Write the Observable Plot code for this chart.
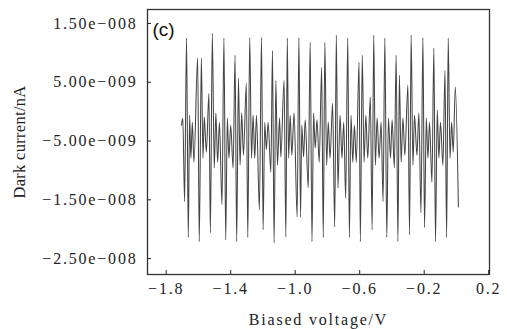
<!DOCTYPE html>
<html>
<head>
<meta charset="utf-8">
<script src="https://cdn.jsdelivr.net/npm/d3@7"></script>
<script src="https://cdn.jsdelivr.net/npm/@observablehq/plot@0.6"></script>
<style>
  html, body { margin: 0; padding: 0; background: #fff; }
  #chart svg text { letter-spacing: 1.8px; }
  #chart svg g[aria-label="y-axis label"] text { letter-spacing: 0.3px; font-size: 16.5px; }
  #chart svg g[aria-label="text"] text { letter-spacing: 0; }
</style>
</head>
<body>
<div id="chart"></div>
<script>
// Biased voltage (V)
const voltage = [
  -1.705, -1.697, -1.686, -1.674, -1.663, -1.655, -1.647, -1.638, -1.628, -1.605,
  -1.595, -1.582, -1.572, -1.564, -1.551, -1.535, -1.526, -1.514, -1.502, -1.492,
  -1.481, -1.470, -1.454, -1.442, -1.431, -1.421, -1.411, -1.400, -1.385, -1.373,
  -1.363, -1.352, -1.342, -1.332, -1.321, -1.303, -1.294, -1.282, -1.271, -1.261,
  -1.251, -1.240, -1.222, -1.209, -1.199, -1.189, -1.179, -1.168, -1.151, -1.141,
  -1.131, -1.120, -1.110, -1.097, -1.089, -1.069, -1.058, -1.049, -1.041, -1.031,
  -1.021, -1.007, -0.988, -0.977, -0.967, -0.959, -0.948, -0.938, -0.919, -0.907,
  -0.896, -0.886, -0.876, -0.865, -0.851, -0.836, -0.826, -0.816, -0.805, -0.795,
  -0.784, -0.768, -0.755, -0.745, -0.735, -0.722, -0.710, -0.699, -0.687, -0.674,
  -0.664, -0.654, -0.643, -0.633, -0.621, -0.604, -0.596, -0.584, -0.573, -0.562,
  -0.550, -0.534, -0.523, -0.513, -0.503, -0.492, -0.480, -0.467, -0.455, -0.444,
  -0.432, -0.422, -0.409, -0.399, -0.385, -0.374, -0.363, -0.354, -0.343, -0.332,
  -0.320, -0.301, -0.291, -0.281, -0.270, -0.260, -0.245, -0.233, -0.220, -0.208,
  -0.198, -0.187, -0.177, -0.167, -0.152, -0.140, -0.130, -0.119, -0.109, -0.099,
  -0.084, -0.071, -0.061, -0.051, -0.040, -0.030, -0.020, -0.007, 0.012
];
// Dark current, in units of 1e-9
const current = [
  -2.3, -1.1, -15.3, 12.5, -21.4, -0.6, -7.9, -1.8, -8.6, 9.1,
  -22.1, 9.1, -7.9, -0.9, -6.9, 3.1, -20.6, 13.3, -9.6, -0.25,
  -8.6, -1.8, -15.8, 12.5, -21.8, -1.1, -7.9, -2.3, -9.6, 9.6,
  -22.1, 5.7, -9.1, -0.25, -7.4, 4.8, -21.4, 12.6, -7.9, -0.6,
  -7.9, -0.6, -16.7, 12.6, -20.1, -1.8, -6.5, -1.8, -10.3, 10.4,
  -22.3, 5.3, -9.1, -1.1, -7.7, 5.3, -21.3, 12.5, -7.9, -0.6,
  -7.4, -0.25, -17.9, 12.6, -17.9, -2.3, -7.7, -1.4, -13.0, 11.8,
  -22.1, -0.25, -6.2, -1.4, -8.6, 7.5, -21.4, 11.8, -9.1, -1.8,
  -7.9, 1.4, -19.6, 13.0, -13.0, -0.6, -7.9, -1.8, -14.7, 12.5,
  -21.4, -0.6, -8.6, -2.3, -8.6, 8.4, -22.1, 9.6, -8.6, -0.6,
  -7.9, 2.5, -20.1, 13.0, -9.1, -1.1, -7.9, -1.8, -15.3, 12.5,
  -21.4, -1.1, -7.9, -1.4, -9.6, 9.6, -22.1, 6.2, -8.6, -1.1,
  -7.4, 4.5, -20.9, 13.0, -9.1, -0.6, -7.4, -0.25, -17.2, 12.6,
  -19.7, -1.1, -7.9, -1.8, -12.0, 10.8, -22.1, 0.3, -7.9, -1.8,
  -9.1, 7.0, -21.4, 12.5, -7.9, -1.8, -6.9, 4.2, -16.2
];
const xTicks = [-1.8, -1.4, -1.0, -0.6, -0.2, 0.2];
const yTicks = [1.5e-8, 5e-9, -5e-9, -1.5e-8, -2.5e-8];
const panelLabel = ["(c)"];

const data = voltage.map((v, i) => ({v, c: current[i] * 1e-9}));

function sciFormat(d) {
  const [m, e] = d.toExponential(2).split("e");
  const en = +e;
  const mant = m.replace("-", "\u2212");
  return mant + "e" + (en < 0 ? "\u2212" : "+") + String(Math.abs(en)).padStart(3, "0");
}

const plot = Plot.plot({
  width: 507,
  height: 329,
  marginLeft: 147,
  marginRight: 18,
  marginTop: 9,
  marginBottom: 55,
  style: {fontFamily: "'Liberation Serif', serif", fontSize: "16px", color: "#222", background: "#fff"},
  x: {domain: [-1.916, 0.205]},
  y: {domain: [-2.77e-8, 1.737e-8]},
  marks: [
    Plot.frame({stroke: "#333", strokeWidth: 1.3}),
    Plot.axisY(yTicks, {
      tickSize: -4, tickPadding: 14, tickFormat: sciFormat,
      label: "Dark current/nA", labelAnchor: "center", labelArrow: false, labelOffset: 134
    }),
    Plot.axisX(xTicks, {
      tickSize: -4, tickPadding: 12, tickFormat: d3.format(".1f"),
      label: "Biased voltage/V", labelAnchor: "center", labelArrow: false, labelOffset: 50
    }),
    Plot.line(data, {x: "v", y: "c", stroke: "#444", strokeWidth: 1.05, curve: "monotone-x"}),
    Plot.text(panelLabel, {
      frameAnchor: "top-left", dx: 5, dy: 13, text: d => d,
      fontFamily: "'Liberation Sans', sans-serif", fontSize: 19, fill: "#111", textAnchor: "start"
    })
  ]
});
document.getElementById("chart").appendChild(plot);
</script>
</body>
</html>
